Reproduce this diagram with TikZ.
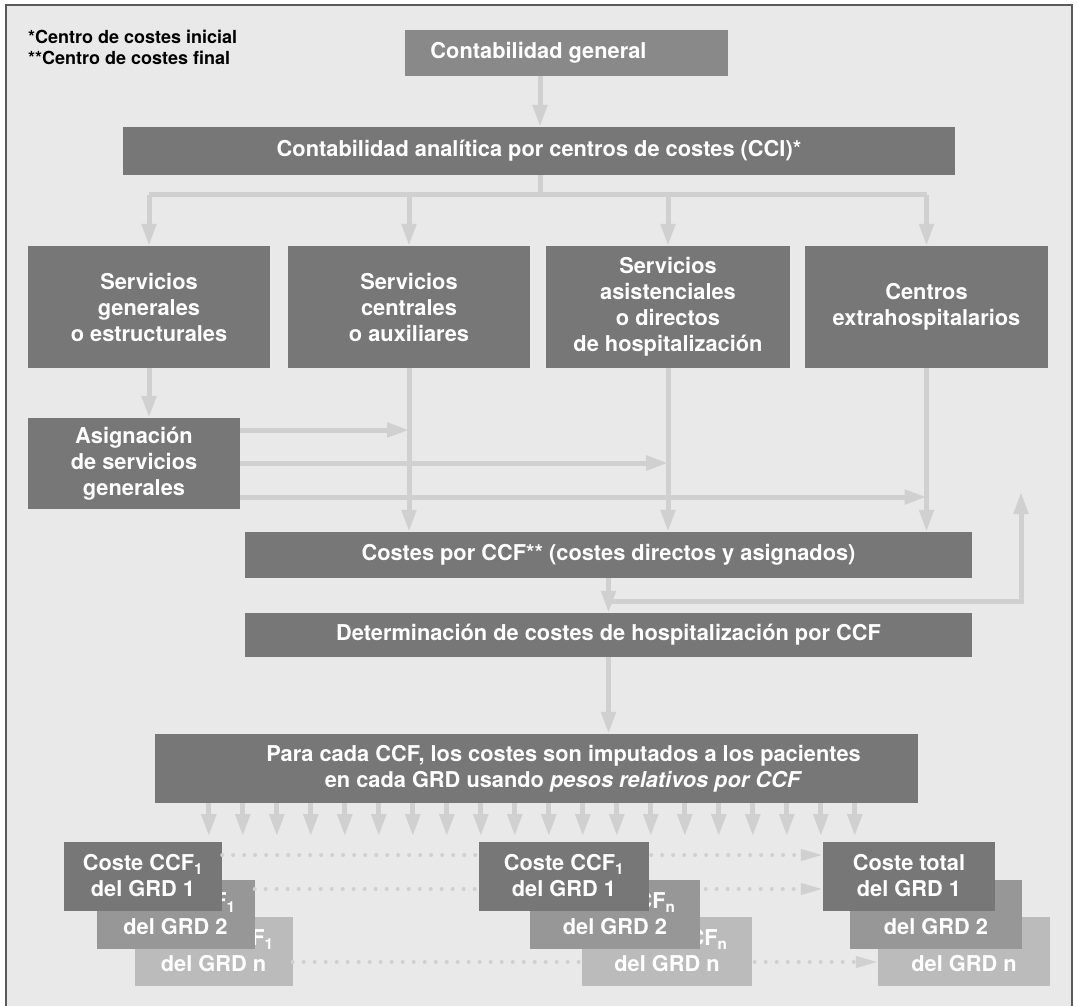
\documentclass[tikz,border=0pt]{standalone}
\usepackage{fontspec}
\setmainfont{TeX Gyre Heros}
\usetikzlibrary{positioning,arrows.meta}

\definecolor{boxgray}{HTML}{777777}
\definecolor{topgray}{HTML}{898989}
\definecolor{midgray}{HTML}{979797}
\definecolor{palegray}{HTML}{BBBBBB}
\definecolor{arrowgray}{HTML}{D0D0D0}
\definecolor{bggray}{HTML}{E9E9E9}
\definecolor{framegray}{HTML}{5A5A5A}

\begin{document}
\begin{tikzpicture}[x=1pt,y=-1pt,
  box/.style={fill=boxgray,text=white,align=center,inner sep=0pt,
              font=\bfseries\fontsize{21.8}{26}\selectfont},
  stk/.style={box,minimum height=69},
  pipe/.style={draw=arrowgray,line width=5pt},
  arr/.style={pipe,-{Triangle[length=22pt,width=14pt]}},
  dots/.style={draw=arrowgray,line width=4pt,line cap=round,dash pattern=on 0pt off 11pt,
               -{Triangle[length=22pt,width=11pt]}},
  note/.style={anchor=west,align=left,inner sep=0pt,
               font=\bfseries\fontsize{18}{21}\selectfont},
]
\useasboundingbox (0,0) rectangle (1077,1006);
\fill[white] (0,0) rectangle (1077,1006);
\draw[framegray,line width=2pt,fill=bggray] (6,5) rectangle (1072,1020);

% Legend
\node[note] (legend) at (28,47) {*Centro de costes inicial\\**Centro de costes final};

% Top boxes
\node[box,fill=topgray,minimum width=323,minimum height=46] (cg) at (566.5,53)
  {\hspace*{-56pt}Contabilidad general};
\node[box,minimum width=832,minimum height=48] (cca) at (539,151)
  {Contabilidad analítica por centros de costes (CCI)*};

% Cost centres
\node[box,minimum width=242,minimum height=122] (sg) at (149,307) {Servicios\\generales\\o estructurales};
\node[box,minimum width=242,minimum height=122] (sc) at (409,307) {Servicios\\centrales\\o auxiliares};
\node[box,minimum width=244,minimum height=122] (sa) at (668,307) {Servicios\\asistenciales\\o directos\\de hospitalización};
\node[box,minimum width=243,minimum height=122] (ce) at (926.5,307) {Centros\\extrahospitalarios};
\node[box,minimum width=212,minimum height=91] (asg) at (134,463.5) {Asignación\\de servicios\\generales};

% Final cost centres
\node[box,minimum width=727,minimum height=46] (ccf) at (608.5,555) {Costes por CCF** (costes directos y asignados)};
\node[box,minimum width=727,minimum height=44] (det) at (608.5,635) {Determinación de costes de hospitalización por CCF};
\node[box,minimum width=763,minimum height=69] (imp) at (536.5,768.5)
  {\hspace*{54pt}Para cada CCF, los costes son imputados a los pacientes\\
   \hspace*{54pt}en cada GRD usando \textit{pesos relativos por CCF}};

% Arrows
\coordinate (hub) at (540,195);
\coordinate (back) at (1021,492);
\draw[arr] (cg.south -| hub) -- (cca.north -| hub);
\draw[pipe] (cca.south -| hub) -- (hub);
\draw[pipe] (hub -| sg.north) -- (hub -| ce.north);
\foreach \n in {sg,sc,sa,ce}
  \draw[arr] (hub -| \n.north) -- (\n.north);
\draw[arr] (sg.south) -- (sg.south |- asg.north);
\foreach \n in {sc,sa,ce}
  \draw[arr] (\n.south) -- (\n.south |- ccf.north);
\foreach \n/\y in {sc/430,sa/463,ce/497}
  \draw[arr] (asg.east |- 0,\y) -- (\n.south |- 0,\y);
\draw[arr] (ccf.south) -- (det.north);
\draw[arr] (ccf.south |- 0,601) -| (back);
\draw[arr] (det.south) -- (det.south |- imp.north);
\foreach \i in {0,...,19}
  \draw[arr] ([xshift={54+34*\i}]imp.south west) -- ++(0,33);

% GRD stacks
\node[stk,fill=palegray,minimum width=158] (c1c) at (213.5,951) {Coste CCF\textsubscript{1}\\del GRD n};
\node[stk,fill=midgray,minimum width=158] (c1b) at (175.5,914) {Coste CCF\textsubscript{1}\\del GRD 2};
\node[stk,minimum width=158] (c1a) at (143,876) {Coste CCF\textsubscript{1}\\del GRD 1};
\node[stk,fill=palegray,minimum width=172] (t1c) at (964,951) {Coste total\\del GRD n};
\node[stk,fill=midgray,minimum width=172] (t1b) at (936,914) {Coste total\\del GRD 2};
\node[stk,minimum width=172] (t1a) at (909,876) {Coste total\\del GRD 1};

\draw[dots] (c1a.east |- 0,855) -- (t1a.west |- 0,855);
\draw[dots] (c1b.east |- 0,889) -- (t1a.west |- 0,889);
\draw[dots] (c1c.east |- 0,962) -- (t1c.west |- 0,962);

\node[stk,fill=palegray,minimum width=170] (c2c) at (667,951) {Coste CCF\textsubscript{n}\\del GRD n};
\node[stk,fill=midgray,minimum width=170] (c2b) at (615,914) {Coste CCF\textsubscript{n}\\del GRD 2};
\node[stk,minimum width=170] (c2a) at (564,876) {Coste CCF\textsubscript{1}\\del GRD 1};

\end{tikzpicture}
\end{document}
